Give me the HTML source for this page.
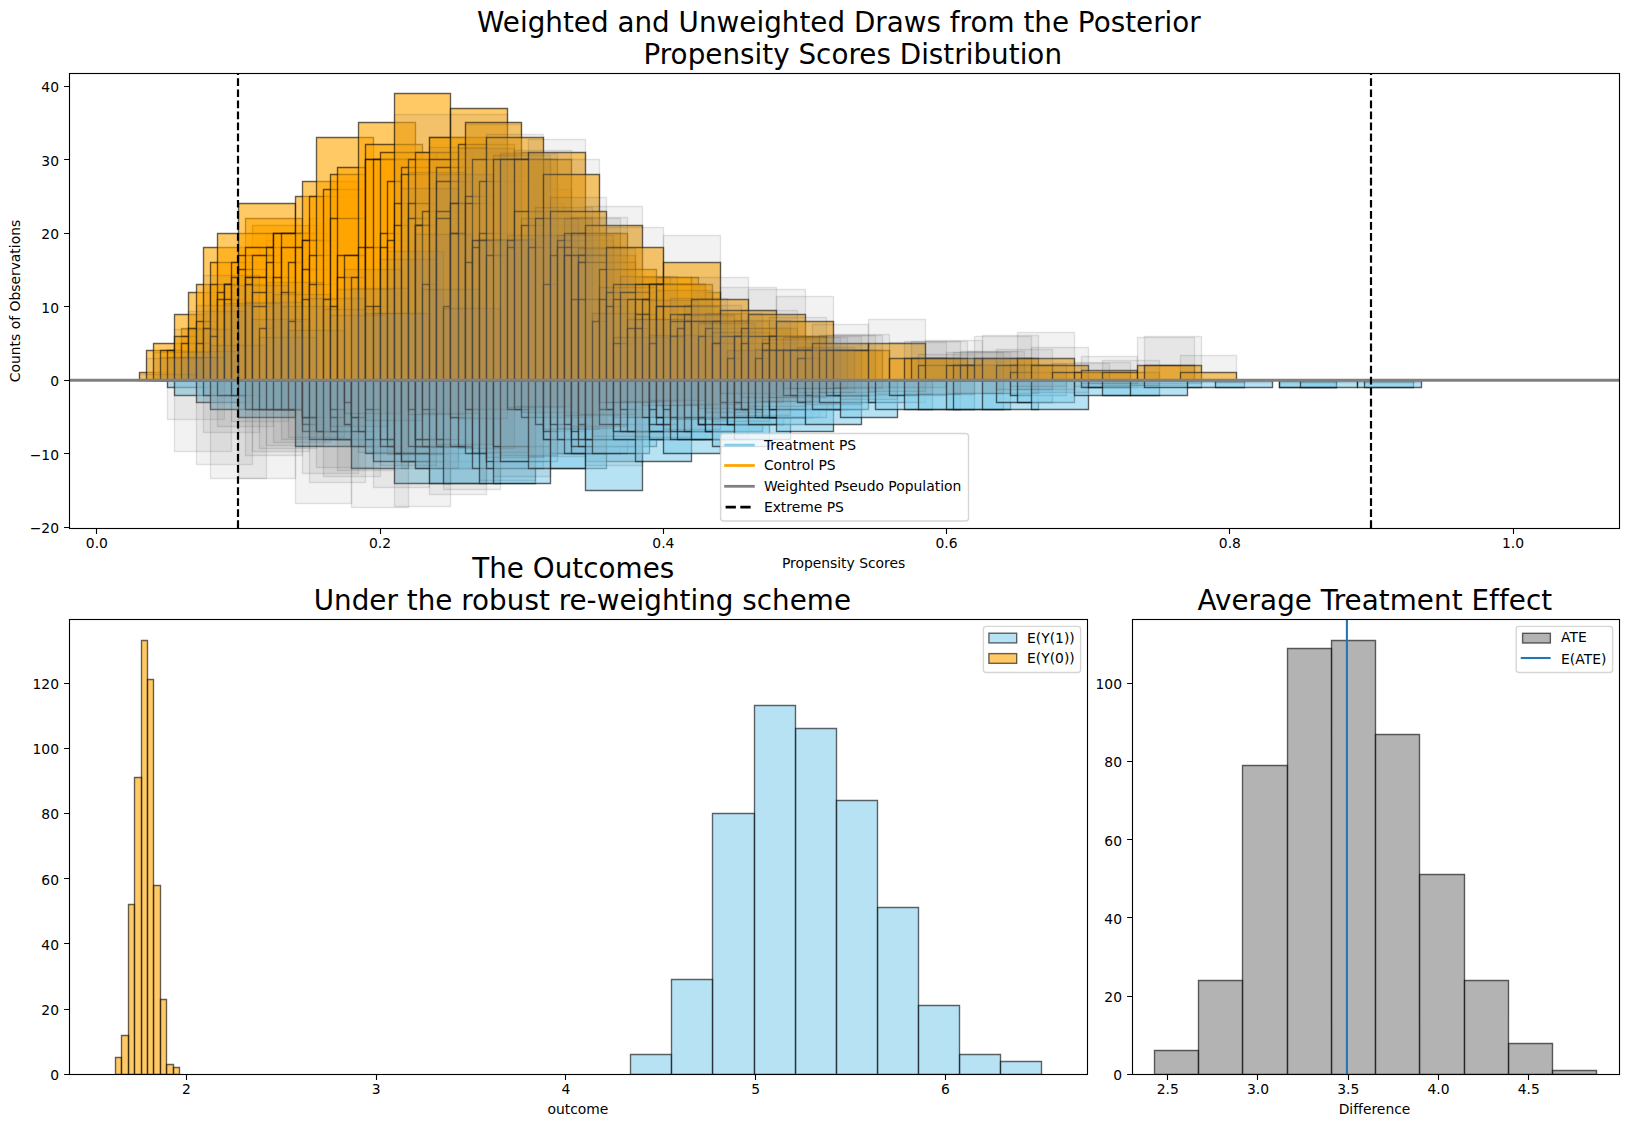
<!DOCTYPE html><html><head><meta charset="utf-8"><title>Propensity Scores</title><style>html,body{margin:0;padding:0;background:#fff}svg{display:block}</style></head><body><svg width="1628" height="1127" viewBox="0 0 1628 1127" font-family="'DejaVu Sans','Liberation Sans',sans-serif" font-size="13.89px" fill="#000" style="font-variant-ligatures:none;font-feature-settings:'liga' 0,'clig' 0">
<rect width="1628" height="1127" fill="#fff"/>
<clipPath id="ca"><rect x="69.5" y="73.5" width="1550.0" height="455.0"/></clipPath>
<g clip-path="url(#ca)">
<g fill="#ffa500" stroke="#000" stroke-width="1.39" opacity="1" fill-opacity="0.6" stroke-opacity="0.6" stroke-linejoin="miter"><path d="M266.5 380.5V233.5H323.5V380.5z"/><path d="M663.5 380.5V292.5H720.5V380.5z"/><path d="M592.5 380.5V277.5H649.5V380.5z"/><path d="M734.5 380.5V336.5H790.5V380.5z"/><path d="M174.5 380.5V350.5H231.5V380.5z"/><path d="M401.5 380.5V196.5H458.5V380.5z"/><path d="M493.5 380.5V181.5H550.5V380.5z"/><path d="M493.5 380.5V174.5H550.5V380.5z"/><path d="M330.5 380.5V255.5H387.5V380.5z"/><path d="M181.5 380.5V343.5H238.5V380.5z"/><path d="M302.5 380.5V269.5H358.5V380.5z"/><path d="M528.5 380.5V218.5H585.5V380.5z"/><path d="M606.5 380.5V306.5H663.5V380.5z"/><path d="M606.5 380.5V306.5H663.5V380.5z"/><path d="M401.5 380.5V225.5H458.5V380.5z"/><path d="M465.5 380.5V240.5H521.5V380.5z"/><path d="M259.5 380.5V262.5H316.5V380.5z"/><path d="M450.5 380.5V203.5H507.5V380.5z"/><path d="M295.5 380.5V247.5H351.5V380.5z"/><path d="M627.5 380.5V306.5H684.5V380.5z"/><path d="M500.5 380.5V262.5H557.5V380.5z"/><path d="M528.5 380.5V247.5H585.5V380.5z"/><path d="M323.5 380.5V196.5H380.5V380.5z"/><path d="M649.5 380.5V306.5H705.5V380.5z"/><path d="M450.5 380.5V233.5H507.5V380.5z"/><path d="M188.5 380.5V328.5H245.5V380.5z"/><path d="M394.5 380.5V211.5H450.5V380.5z"/><path d="M635.5 380.5V277.5H691.5V380.5z"/><path d="M252.5 380.5V225.5H309.5V380.5z"/><path d="M663.5 380.5V321.5H720.5V380.5z"/><path d="M564.5 380.5V277.5H620.5V380.5z"/><path d="M627.5 380.5V306.5H684.5V380.5z"/><path d="M734.5 380.5V328.5H790.5V380.5z"/><path d="M408.5 380.5V189.5H465.5V380.5z"/><path d="M479.5 380.5V167.5H535.5V380.5z"/><path d="M514.5 380.5V189.5H571.5V380.5z"/><path d="M550.5 380.5V262.5H606.5V380.5z"/><path d="M550.5 380.5V299.5H606.5V380.5z"/><path d="M436.5 380.5V152.5H493.5V380.5z"/><path d="M429.5 380.5V203.5H486.5V380.5z"/><path d="M493.5 380.5V167.5H550.5V380.5z"/><path d="M316.5 380.5V262.5H373.5V380.5z"/><path d="M550.5 380.5V269.5H606.5V380.5z"/><path d="M613.5 380.5V277.5H670.5V380.5z"/><path d="M443.5 380.5V152.5H500.5V380.5z"/><path d="M295.5 380.5V277.5H351.5V380.5z"/><path d="M727.5 380.5V336.5H783.5V380.5z"/><path d="M266.5 380.5V262.5H323.5V380.5z"/><path d="M712.5 380.5V336.5H769.5V380.5z"/><path d="M196.5 380.5V336.5H252.5V380.5z"/><path d="M188.5 380.5V343.5H245.5V380.5z"/><path d="M550.5 380.5V299.5H606.5V380.5z"/><path d="M373.5 380.5V181.5H429.5V380.5z"/><path d="M188.5 380.5V343.5H245.5V380.5z"/><path d="M181.5 380.5V328.5H238.5V380.5z"/><path d="M330.5 380.5V181.5H387.5V380.5z"/><path d="M472.5 380.5V247.5H528.5V380.5z"/><path d="M231.5 380.5V284.5H288.5V380.5z"/><path d="M323.5 380.5V211.5H380.5V380.5z"/><path d="M266.5 380.5V240.5H323.5V380.5z"/><path d="M550.5 380.5V292.5H606.5V380.5z"/><path d="M337.5 380.5V203.5H394.5V380.5z"/><path d="M684.5 380.5V321.5H741.5V380.5z"/><path d="M443.5 380.5V167.5H500.5V380.5z"/><path d="M705.5 380.5V343.5H762.5V380.5z"/><path d="M429.5 380.5V137.5H486.5V380.5z"/><path d="M627.5 380.5V314.5H684.5V380.5z"/><path d="M521.5 380.5V255.5H578.5V380.5z"/><path d="M231.5 380.5V299.5H288.5V380.5z"/><path d="M734.5 380.5V343.5H790.5V380.5z"/><path d="M231.5 380.5V299.5H288.5V380.5z"/><path d="M627.5 380.5V299.5H684.5V380.5z"/><path d="M557.5 380.5V262.5H613.5V380.5z"/><path d="M606.5 380.5V292.5H663.5V380.5z"/><path d="M564.5 380.5V277.5H620.5V380.5z"/><path d="M720.5 380.5V336.5H776.5V380.5z"/><path d="M550.5 380.5V292.5H606.5V380.5z"/><path d="M734.5 380.5V328.5H790.5V380.5z"/><path d="M507.5 380.5V203.5H564.5V380.5z"/><path d="M599.5 380.5V284.5H656.5V380.5z"/><path d="M358.5 380.5V277.5H415.5V380.5z"/><path d="M748.5 380.5V336.5H805.5V380.5z"/><path d="M436.5 380.5V181.5H493.5V380.5z"/><path d="M684.5 380.5V336.5H741.5V380.5z"/><path d="M635.5 380.5V306.5H691.5V380.5z"/><path d="M231.5 380.5V292.5H288.5V380.5z"/><path d="M196.5 380.5V336.5H252.5V380.5z"/><path d="M727.5 380.5V343.5H783.5V380.5z"/><path d="M288.5 380.5V277.5H344.5V380.5z"/><path d="M472.5 380.5V152.5H528.5V380.5z"/><path d="M592.5 380.5V299.5H649.5V380.5z"/><path d="M181.5 380.5V336.5H238.5V380.5z"/><path d="M500.5 380.5V218.5H557.5V380.5z"/><path d="M245.5 380.5V218.5H302.5V380.5z"/><path d="M394.5 380.5V174.5H450.5V380.5z"/><path d="M309.5 380.5V218.5H365.5V380.5z"/><path d="M266.5 380.5V255.5H323.5V380.5z"/><path d="M762.5 380.5V343.5H819.5V380.5z"/><path d="M259.5 380.5V292.5H316.5V380.5z"/><path d="M684.5 380.5V336.5H741.5V380.5z"/><path d="M351.5 380.5V196.5H408.5V380.5z"/><path d="M705.5 380.5V328.5H762.5V380.5z"/><path d="M684.5 380.5V321.5H741.5V380.5z"/><path d="M656.5 380.5V292.5H712.5V380.5z"/><path d="M677.5 380.5V328.5H734.5V380.5z"/><path d="M380.5 380.5V189.5H436.5V380.5z"/><path d="M394.5 380.5V262.5H450.5V380.5z"/><path d="M585.5 380.5V292.5H642.5V380.5z"/><path d="M181.5 380.5V336.5H238.5V380.5z"/><path d="M748.5 380.5V336.5H805.5V380.5z"/><path d="M365.5 380.5V189.5H422.5V380.5z"/><path d="M514.5 380.5V225.5H571.5V380.5z"/><path d="M394.5 380.5V247.5H450.5V380.5z"/><path d="M677.5 380.5V314.5H734.5V380.5z"/><path d="M550.5 380.5V277.5H606.5V380.5z"/><path d="M599.5 380.5V277.5H656.5V380.5z"/><path d="M309.5 380.5V225.5H365.5V380.5z"/><path d="M642.5 380.5V277.5H698.5V380.5z"/><path d="M139.5 380.5V372.5H196.5V380.5z"/><path d="M146.5 380.5V350.5H203.5V380.5z"/><path d="M153.5 380.5V343.5H210.5V380.5z"/><path d="M160.5 380.5V350.5H217.5V380.5z"/><path d="M167.5 380.5V350.5H224.5V380.5z"/><path d="M174.5 380.5V314.5H231.5V380.5z"/><path d="M174.5 380.5V336.5H231.5V380.5z"/><path d="M181.5 380.5V343.5H238.5V380.5z"/><path d="M188.5 380.5V292.5H245.5V380.5z"/><path d="M188.5 380.5V328.5H245.5V380.5z"/><path d="M196.5 380.5V284.5H252.5V380.5z"/><path d="M196.5 380.5V321.5H252.5V380.5z"/><path d="M196.5 380.5V343.5H252.5V380.5z"/><path d="M203.5 380.5V247.5H259.5V380.5z"/><path d="M203.5 380.5V328.5H259.5V380.5z"/><path d="M210.5 380.5V262.5H266.5V380.5z"/><path d="M210.5 380.5V284.5H266.5V380.5z"/><path d="M210.5 380.5V336.5H266.5V380.5z"/><path d="M217.5 380.5V233.5H273.5V380.5z"/><path d="M217.5 380.5V292.5H273.5V380.5z"/><path d="M217.5 380.5V299.5H273.5V380.5z"/><path d="M224.5 380.5V284.5H281.5V380.5z"/><path d="M224.5 380.5V284.5H281.5V380.5z"/><path d="M224.5 380.5V284.5H281.5V380.5z"/><path d="M224.5 380.5V299.5H281.5V380.5z"/><path d="M231.5 380.5V262.5H288.5V380.5z"/><path d="M231.5 380.5V277.5H288.5V380.5z"/><path d="M238.5 380.5V203.5H295.5V380.5z"/><path d="M238.5 380.5V255.5H295.5V380.5z"/><path d="M238.5 380.5V269.5H295.5V380.5z"/><path d="M245.5 380.5V247.5H302.5V380.5z"/><path d="M245.5 380.5V277.5H302.5V380.5z"/><path d="M245.5 380.5V277.5H302.5V380.5z"/><path d="M245.5 380.5V284.5H302.5V380.5z"/><path d="M252.5 380.5V255.5H309.5V380.5z"/><path d="M252.5 380.5V277.5H309.5V380.5z"/><path d="M252.5 380.5V292.5H309.5V380.5z"/><path d="M252.5 380.5V306.5H309.5V380.5z"/><path d="M259.5 380.5V328.5H316.5V380.5z"/><path d="M266.5 380.5V247.5H323.5V380.5z"/><path d="M266.5 380.5V262.5H323.5V380.5z"/><path d="M273.5 380.5V233.5H330.5V380.5z"/><path d="M273.5 380.5V233.5H330.5V380.5z"/><path d="M273.5 380.5V277.5H330.5V380.5z"/><path d="M281.5 380.5V233.5H337.5V380.5z"/><path d="M281.5 380.5V247.5H337.5V380.5z"/><path d="M281.5 380.5V292.5H337.5V380.5z"/><path d="M288.5 380.5V262.5H344.5V380.5z"/><path d="M288.5 380.5V321.5H344.5V380.5z"/><path d="M295.5 380.5V196.5H351.5V380.5z"/><path d="M295.5 380.5V247.5H351.5V380.5z"/><path d="M302.5 380.5V181.5H358.5V380.5z"/><path d="M302.5 380.5V240.5H358.5V380.5z"/><path d="M302.5 380.5V240.5H358.5V380.5z"/><path d="M302.5 380.5V269.5H358.5V380.5z"/><path d="M302.5 380.5V299.5H358.5V380.5z"/><path d="M309.5 380.5V196.5H365.5V380.5z"/><path d="M309.5 380.5V255.5H365.5V380.5z"/><path d="M309.5 380.5V284.5H365.5V380.5z"/><path d="M316.5 380.5V137.5H373.5V380.5z"/><path d="M323.5 380.5V189.5H380.5V380.5z"/><path d="M323.5 380.5V299.5H380.5V380.5z"/><path d="M330.5 380.5V174.5H387.5V380.5z"/><path d="M330.5 380.5V218.5H387.5V380.5z"/><path d="M330.5 380.5V306.5H387.5V380.5z"/><path d="M337.5 380.5V167.5H394.5V380.5z"/><path d="M337.5 380.5V255.5H394.5V380.5z"/><path d="M337.5 380.5V277.5H394.5V380.5z"/><path d="M344.5 380.5V255.5H401.5V380.5z"/><path d="M351.5 380.5V277.5H408.5V380.5z"/><path d="M358.5 380.5V122.5H415.5V380.5z"/><path d="M358.5 380.5V247.5H415.5V380.5z"/><path d="M365.5 380.5V144.5H422.5V380.5z"/><path d="M365.5 380.5V159.5H422.5V380.5z"/><path d="M365.5 380.5V159.5H422.5V380.5z"/><path d="M365.5 380.5V247.5H422.5V380.5z"/><path d="M365.5 380.5V306.5H422.5V380.5z"/><path d="M373.5 380.5V159.5H429.5V380.5z"/><path d="M373.5 380.5V306.5H429.5V380.5z"/><path d="M380.5 380.5V152.5H436.5V380.5z"/><path d="M380.5 380.5V233.5H436.5V380.5z"/><path d="M380.5 380.5V247.5H436.5V380.5z"/><path d="M387.5 380.5V181.5H443.5V380.5z"/><path d="M387.5 380.5V240.5H443.5V380.5z"/><path d="M394.5 380.5V93.5H450.5V380.5z"/><path d="M394.5 380.5V203.5H450.5V380.5z"/><path d="M394.5 380.5V225.5H450.5V380.5z"/><path d="M401.5 380.5V167.5H458.5V380.5z"/><path d="M401.5 380.5V174.5H458.5V380.5z"/><path d="M408.5 380.5V159.5H465.5V380.5z"/><path d="M408.5 380.5V203.5H465.5V380.5z"/><path d="M408.5 380.5V218.5H465.5V380.5z"/><path d="M415.5 380.5V152.5H472.5V380.5z"/><path d="M415.5 380.5V225.5H472.5V380.5z"/><path d="M415.5 380.5V225.5H472.5V380.5z"/><path d="M415.5 380.5V225.5H472.5V380.5z"/><path d="M422.5 380.5V211.5H479.5V380.5z"/><path d="M422.5 380.5V284.5H479.5V380.5z"/><path d="M429.5 380.5V137.5H486.5V380.5z"/><path d="M429.5 380.5V159.5H486.5V380.5z"/><path d="M436.5 380.5V167.5H493.5V380.5z"/><path d="M436.5 380.5V181.5H493.5V380.5z"/><path d="M436.5 380.5V211.5H493.5V380.5z"/><path d="M436.5 380.5V218.5H493.5V380.5z"/><path d="M443.5 380.5V306.5H500.5V380.5z"/><path d="M450.5 380.5V108.5H507.5V380.5z"/><path d="M450.5 380.5V203.5H507.5V380.5z"/><path d="M450.5 380.5V203.5H507.5V380.5z"/><path d="M450.5 380.5V233.5H507.5V380.5z"/><path d="M450.5 380.5V233.5H507.5V380.5z"/><path d="M458.5 380.5V144.5H514.5V380.5z"/><path d="M465.5 380.5V122.5H521.5V380.5z"/><path d="M465.5 380.5V196.5H521.5V380.5z"/><path d="M465.5 380.5V203.5H521.5V380.5z"/><path d="M465.5 380.5V262.5H521.5V380.5z"/><path d="M472.5 380.5V159.5H528.5V380.5z"/><path d="M472.5 380.5V240.5H528.5V380.5z"/><path d="M472.5 380.5V247.5H528.5V380.5z"/><path d="M479.5 380.5V181.5H535.5V380.5z"/><path d="M479.5 380.5V233.5H535.5V380.5z"/><path d="M479.5 380.5V240.5H535.5V380.5z"/><path d="M486.5 380.5V137.5H543.5V380.5z"/><path d="M486.5 380.5V255.5H543.5V380.5z"/><path d="M493.5 380.5V159.5H550.5V380.5z"/><path d="M500.5 380.5V159.5H557.5V380.5z"/><path d="M507.5 380.5V240.5H564.5V380.5z"/><path d="M507.5 380.5V247.5H564.5V380.5z"/><path d="M514.5 380.5V159.5H571.5V380.5z"/><path d="M514.5 380.5V211.5H571.5V380.5z"/><path d="M521.5 380.5V225.5H578.5V380.5z"/><path d="M528.5 380.5V152.5H585.5V380.5z"/><path d="M528.5 380.5V247.5H585.5V380.5z"/><path d="M535.5 380.5V218.5H592.5V380.5z"/><path d="M543.5 380.5V174.5H599.5V380.5z"/><path d="M543.5 380.5V284.5H599.5V380.5z"/><path d="M550.5 380.5V211.5H606.5V380.5z"/><path d="M550.5 380.5V255.5H606.5V380.5z"/><path d="M557.5 380.5V240.5H613.5V380.5z"/><path d="M557.5 380.5V247.5H613.5V380.5z"/><path d="M564.5 380.5V233.5H620.5V380.5z"/><path d="M564.5 380.5V247.5H620.5V380.5z"/><path d="M564.5 380.5V255.5H620.5V380.5z"/><path d="M564.5 380.5V255.5H620.5V380.5z"/><path d="M571.5 380.5V233.5H627.5V380.5z"/><path d="M571.5 380.5V255.5H627.5V380.5z"/><path d="M571.5 380.5V299.5H627.5V380.5z"/><path d="M578.5 380.5V255.5H635.5V380.5z"/><path d="M578.5 380.5V262.5H635.5V380.5z"/><path d="M578.5 380.5V262.5H635.5V380.5z"/><path d="M578.5 380.5V299.5H635.5V380.5z"/><path d="M585.5 380.5V225.5H642.5V380.5z"/><path d="M592.5 380.5V321.5H649.5V380.5z"/><path d="M599.5 380.5V269.5H656.5V380.5z"/><path d="M599.5 380.5V299.5H656.5V380.5z"/><path d="M606.5 380.5V247.5H663.5V380.5z"/><path d="M606.5 380.5V292.5H663.5V380.5z"/><path d="M606.5 380.5V306.5H663.5V380.5z"/><path d="M613.5 380.5V284.5H670.5V380.5z"/><path d="M613.5 380.5V299.5H670.5V380.5z"/><path d="M613.5 380.5V343.5H670.5V380.5z"/><path d="M620.5 380.5V292.5H677.5V380.5z"/><path d="M627.5 380.5V299.5H684.5V380.5z"/><path d="M627.5 380.5V328.5H684.5V380.5z"/><path d="M635.5 380.5V284.5H691.5V380.5z"/><path d="M635.5 380.5V299.5H691.5V380.5z"/><path d="M635.5 380.5V314.5H691.5V380.5z"/><path d="M635.5 380.5V328.5H691.5V380.5z"/><path d="M642.5 380.5V299.5H698.5V380.5z"/><path d="M642.5 380.5V314.5H698.5V380.5z"/><path d="M649.5 380.5V284.5H705.5V380.5z"/><path d="M649.5 380.5V284.5H705.5V380.5z"/><path d="M649.5 380.5V343.5H705.5V380.5z"/><path d="M656.5 380.5V284.5H712.5V380.5z"/><path d="M656.5 380.5V306.5H712.5V380.5z"/><path d="M656.5 380.5V306.5H712.5V380.5z"/><path d="M663.5 380.5V262.5H720.5V380.5z"/><path d="M663.5 380.5V306.5H720.5V380.5z"/><path d="M670.5 380.5V314.5H727.5V380.5z"/><path d="M670.5 380.5V321.5H727.5V380.5z"/><path d="M670.5 380.5V336.5H727.5V380.5z"/><path d="M677.5 380.5V328.5H734.5V380.5z"/><path d="M684.5 380.5V314.5H741.5V380.5z"/><path d="M684.5 380.5V321.5H741.5V380.5z"/><path d="M684.5 380.5V321.5H741.5V380.5z"/><path d="M691.5 380.5V299.5H748.5V380.5z"/><path d="M691.5 380.5V321.5H748.5V380.5z"/><path d="M698.5 380.5V336.5H755.5V380.5z"/><path d="M705.5 380.5V328.5H762.5V380.5z"/><path d="M712.5 380.5V321.5H769.5V380.5z"/><path d="M712.5 380.5V343.5H769.5V380.5z"/><path d="M712.5 380.5V343.5H769.5V380.5z"/><path d="M720.5 380.5V310.5H776.5V380.5z"/><path d="M720.5 380.5V336.5H776.5V380.5z"/><path d="M727.5 380.5V358.5H783.5V380.5z"/><path d="M734.5 380.5V336.5H790.5V380.5z"/><path d="M734.5 380.5V336.5H790.5V380.5z"/><path d="M741.5 380.5V328.5H797.5V380.5z"/><path d="M741.5 380.5V343.5H797.5V380.5z"/><path d="M748.5 380.5V314.5H805.5V380.5z"/><path d="M748.5 380.5V336.5H805.5V380.5z"/><path d="M755.5 380.5V358.5H812.5V380.5z"/><path d="M762.5 380.5V343.5H819.5V380.5z"/><path d="M762.5 380.5V350.5H819.5V380.5z"/><path d="M769.5 380.5V336.5H826.5V380.5z"/><path d="M769.5 380.5V336.5H826.5V380.5z"/><path d="M769.5 380.5V350.5H826.5V380.5z"/><path d="M776.5 380.5V321.5H833.5V380.5z"/><path d="M776.5 380.5V350.5H833.5V380.5z"/><path d="M783.5 380.5V350.5H840.5V380.5z"/><path d="M790.5 380.5V350.5H847.5V380.5z"/><path d="M797.5 380.5V358.5H854.5V380.5z"/><path d="M805.5 380.5V350.5H861.5V380.5z"/><path d="M812.5 380.5V343.5H868.5V380.5z"/><path d="M819.5 380.5V350.5H875.5V380.5z"/><path d="M826.5 380.5V350.5H882.5V380.5z"/><path d="M833.5 380.5V350.5H889.5V380.5z"/><path d="M868.5 380.5V343.5H925.5V380.5z"/><path d="M889.5 380.5V358.5H946.5V380.5z"/><path d="M904.5 380.5V358.5H960.5V380.5z"/><path d="M911.5 380.5V358.5H967.5V380.5z"/><path d="M918.5 380.5V365.5H974.5V380.5z"/><path d="M925.5 380.5V358.5H982.5V380.5z"/><path d="M946.5 380.5V365.5H1003.5V380.5z"/><path d="M953.5 380.5V365.5H1010.5V380.5z"/><path d="M960.5 380.5V365.5H1017.5V380.5z"/><path d="M967.5 380.5V365.5H1024.5V380.5z"/><path d="M974.5 380.5V358.5H1031.5V380.5z"/><path d="M982.5 380.5V358.5H1038.5V380.5z"/><path d="M996.5 380.5V365.5H1052.5V380.5z"/><path d="M1010.5 380.5V372.5H1066.5V380.5z"/><path d="M1017.5 380.5V358.5H1074.5V380.5z"/><path d="M1031.5 380.5V365.5H1088.5V380.5z"/><path d="M1052.5 380.5V372.5H1109.5V380.5z"/><path d="M1074.5 380.5V372.5H1130.5V380.5z"/><path d="M1081.5 380.5V370.5H1137.5V380.5z"/><path d="M1102.5 380.5V372.5H1159.5V380.5z"/><path d="M1137.5 380.5V365.5H1194.5V380.5z"/><path d="M1144.5 380.5V365.5H1201.5V380.5z"/><path d="M1180.5 380.5V372.5H1236.5V380.5z"/></g>
<g fill="#87ceeb" stroke="#000" stroke-width="1.39" opacity="1" fill-opacity="0.6" stroke-opacity="0.6" stroke-linejoin="miter"><path d="M1279.5 380.5V387.5H1336.5V380.5z"/><path d="M408.5 380.5V461.5H465.5V380.5z"/><path d="M805.5 380.5V402.5H861.5V380.5z"/><path d="M627.5 380.5V431.5H684.5V380.5z"/><path d="M585.5 380.5V461.5H642.5V380.5z"/><path d="M606.5 380.5V439.5H663.5V380.5z"/><path d="M790.5 380.5V409.5H847.5V380.5z"/><path d="M727.5 380.5V424.5H783.5V380.5z"/><path d="M557.5 380.5V446.5H613.5V380.5z"/><path d="M613.5 380.5V439.5H670.5V380.5z"/><path d="M344.5 380.5V417.5H401.5V380.5z"/><path d="M698.5 380.5V424.5H755.5V380.5z"/><path d="M656.5 380.5V424.5H712.5V380.5z"/><path d="M373.5 380.5V424.5H429.5V380.5z"/><path d="M670.5 380.5V417.5H727.5V380.5z"/><path d="M373.5 380.5V453.5H429.5V380.5z"/><path d="M486.5 380.5V453.5H543.5V380.5z"/><path d="M429.5 380.5V446.5H486.5V380.5z"/><path d="M550.5 380.5V446.5H606.5V380.5z"/><path d="M599.5 380.5V446.5H656.5V380.5z"/><path d="M415.5 380.5V468.5H472.5V380.5z"/><path d="M493.5 380.5V424.5H550.5V380.5z"/><path d="M401.5 380.5V446.5H458.5V380.5z"/><path d="M493.5 380.5V446.5H550.5V380.5z"/><path d="M620.5 380.5V424.5H677.5V380.5z"/><path d="M358.5 380.5V446.5H415.5V380.5z"/><path d="M776.5 380.5V409.5H833.5V380.5z"/><path d="M705.5 380.5V431.5H762.5V380.5z"/><path d="M691.5 380.5V431.5H748.5V380.5z"/><path d="M691.5 380.5V431.5H748.5V380.5z"/><path d="M543.5 380.5V453.5H599.5V380.5z"/><path d="M635.5 380.5V439.5H691.5V380.5z"/><path d="M330.5 380.5V417.5H387.5V380.5z"/><path d="M528.5 380.5V424.5H585.5V380.5z"/><path d="M323.5 380.5V424.5H380.5V380.5z"/><path d="M429.5 380.5V446.5H486.5V380.5z"/><path d="M564.5 380.5V431.5H620.5V380.5z"/><path d="M635.5 380.5V431.5H691.5V380.5z"/><path d="M408.5 380.5V431.5H465.5V380.5z"/><path d="M535.5 380.5V439.5H592.5V380.5z"/><path d="M535.5 380.5V446.5H592.5V380.5z"/><path d="M649.5 380.5V431.5H705.5V380.5z"/><path d="M712.5 380.5V417.5H769.5V380.5z"/><path d="M436.5 380.5V468.5H493.5V380.5z"/><path d="M592.5 380.5V431.5H649.5V380.5z"/><path d="M571.5 380.5V439.5H627.5V380.5z"/><path d="M422.5 380.5V431.5H479.5V380.5z"/><path d="M443.5 380.5V424.5H500.5V380.5z"/><path d="M436.5 380.5V453.5H493.5V380.5z"/><path d="M365.5 380.5V431.5H422.5V380.5z"/><path d="M429.5 380.5V461.5H486.5V380.5z"/><path d="M783.5 380.5V409.5H840.5V380.5z"/><path d="M415.5 380.5V453.5H472.5V380.5z"/><path d="M635.5 380.5V424.5H691.5V380.5z"/><path d="M755.5 380.5V409.5H812.5V380.5z"/><path d="M790.5 380.5V409.5H847.5V380.5z"/><path d="M351.5 380.5V446.5H408.5V380.5z"/><path d="M805.5 380.5V402.5H861.5V380.5z"/><path d="M592.5 380.5V446.5H649.5V380.5z"/><path d="M663.5 380.5V409.5H720.5V380.5z"/><path d="M500.5 380.5V439.5H557.5V380.5z"/><path d="M380.5 380.5V446.5H436.5V380.5z"/><path d="M500.5 380.5V439.5H557.5V380.5z"/><path d="M720.5 380.5V409.5H776.5V380.5z"/><path d="M677.5 380.5V431.5H734.5V380.5z"/><path d="M337.5 380.5V417.5H394.5V380.5z"/><path d="M790.5 380.5V409.5H847.5V380.5z"/><path d="M500.5 380.5V453.5H557.5V380.5z"/><path d="M415.5 380.5V461.5H472.5V380.5z"/><path d="M805.5 380.5V409.5H861.5V380.5z"/><path d="M805.5 380.5V409.5H861.5V380.5z"/><path d="M592.5 380.5V424.5H649.5V380.5z"/><path d="M394.5 380.5V439.5H450.5V380.5z"/><path d="M712.5 380.5V424.5H769.5V380.5z"/><path d="M479.5 380.5V461.5H535.5V380.5z"/><path d="M748.5 380.5V417.5H805.5V380.5z"/><path d="M373.5 380.5V431.5H429.5V380.5z"/><path d="M592.5 380.5V431.5H649.5V380.5z"/><path d="M712.5 380.5V424.5H769.5V380.5z"/><path d="M535.5 380.5V453.5H592.5V380.5z"/><path d="M535.5 380.5V431.5H592.5V380.5z"/><path d="M755.5 380.5V417.5H812.5V380.5z"/><path d="M550.5 380.5V453.5H606.5V380.5z"/><path d="M167.5 380.5V387.5H224.5V380.5z"/><path d="M174.5 380.5V395.5H231.5V380.5z"/><path d="M196.5 380.5V402.5H252.5V380.5z"/><path d="M203.5 380.5V395.5H259.5V380.5z"/><path d="M210.5 380.5V409.5H266.5V380.5z"/><path d="M217.5 380.5V395.5H273.5V380.5z"/><path d="M231.5 380.5V395.5H288.5V380.5z"/><path d="M238.5 380.5V417.5H295.5V380.5z"/><path d="M245.5 380.5V409.5H302.5V380.5z"/><path d="M252.5 380.5V409.5H309.5V380.5z"/><path d="M259.5 380.5V409.5H316.5V380.5z"/><path d="M266.5 380.5V409.5H323.5V380.5z"/><path d="M273.5 380.5V409.5H330.5V380.5z"/><path d="M281.5 380.5V409.5H337.5V380.5z"/><path d="M288.5 380.5V409.5H344.5V380.5z"/><path d="M295.5 380.5V446.5H351.5V380.5z"/><path d="M302.5 380.5V431.5H358.5V380.5z"/><path d="M302.5 380.5V424.5H358.5V380.5z"/><path d="M302.5 380.5V417.5H358.5V380.5z"/><path d="M302.5 380.5V417.5H358.5V380.5z"/><path d="M302.5 380.5V417.5H358.5V380.5z"/><path d="M309.5 380.5V439.5H365.5V380.5z"/><path d="M309.5 380.5V417.5H365.5V380.5z"/><path d="M316.5 380.5V431.5H373.5V380.5z"/><path d="M316.5 380.5V431.5H373.5V380.5z"/><path d="M323.5 380.5V439.5H380.5V380.5z"/><path d="M330.5 380.5V431.5H387.5V380.5z"/><path d="M330.5 380.5V417.5H387.5V380.5z"/><path d="M330.5 380.5V409.5H387.5V380.5z"/><path d="M337.5 380.5V439.5H394.5V380.5z"/><path d="M344.5 380.5V424.5H401.5V380.5z"/><path d="M344.5 380.5V424.5H401.5V380.5z"/><path d="M344.5 380.5V402.5H401.5V380.5z"/><path d="M351.5 380.5V468.5H408.5V380.5z"/><path d="M351.5 380.5V446.5H408.5V380.5z"/><path d="M351.5 380.5V431.5H408.5V380.5z"/><path d="M351.5 380.5V417.5H408.5V380.5z"/><path d="M351.5 380.5V417.5H408.5V380.5z"/><path d="M358.5 380.5V431.5H415.5V380.5z"/><path d="M365.5 380.5V453.5H422.5V380.5z"/><path d="M365.5 380.5V439.5H422.5V380.5z"/><path d="M365.5 380.5V409.5H422.5V380.5z"/><path d="M373.5 380.5V461.5H429.5V380.5z"/><path d="M380.5 380.5V446.5H436.5V380.5z"/><path d="M380.5 380.5V439.5H436.5V380.5z"/><path d="M387.5 380.5V446.5H443.5V380.5z"/><path d="M387.5 380.5V439.5H443.5V380.5z"/><path d="M394.5 380.5V483.5H450.5V380.5z"/><path d="M394.5 380.5V453.5H450.5V380.5z"/><path d="M394.5 380.5V453.5H450.5V380.5z"/><path d="M401.5 380.5V461.5H458.5V380.5z"/><path d="M401.5 380.5V461.5H458.5V380.5z"/><path d="M401.5 380.5V453.5H458.5V380.5z"/><path d="M408.5 380.5V446.5H465.5V380.5z"/><path d="M408.5 380.5V409.5H465.5V380.5z"/><path d="M415.5 380.5V468.5H472.5V380.5z"/><path d="M415.5 380.5V453.5H472.5V380.5z"/><path d="M415.5 380.5V446.5H472.5V380.5z"/><path d="M415.5 380.5V439.5H472.5V380.5z"/><path d="M415.5 380.5V439.5H472.5V380.5z"/><path d="M422.5 380.5V446.5H479.5V380.5z"/><path d="M422.5 380.5V439.5H479.5V380.5z"/><path d="M422.5 380.5V409.5H479.5V380.5z"/><path d="M429.5 380.5V483.5H486.5V380.5z"/><path d="M436.5 380.5V446.5H493.5V380.5z"/><path d="M436.5 380.5V439.5H493.5V380.5z"/><path d="M443.5 380.5V483.5H500.5V380.5z"/><path d="M450.5 380.5V446.5H507.5V380.5z"/><path d="M450.5 380.5V417.5H507.5V380.5z"/><path d="M458.5 380.5V446.5H514.5V380.5z"/><path d="M465.5 380.5V453.5H521.5V380.5z"/><path d="M465.5 380.5V409.5H521.5V380.5z"/><path d="M472.5 380.5V468.5H528.5V380.5z"/><path d="M472.5 380.5V453.5H528.5V380.5z"/><path d="M479.5 380.5V483.5H535.5V380.5z"/><path d="M479.5 380.5V453.5H535.5V380.5z"/><path d="M486.5 380.5V468.5H543.5V380.5z"/><path d="M486.5 380.5V461.5H543.5V380.5z"/><path d="M493.5 380.5V483.5H550.5V380.5z"/><path d="M493.5 380.5V446.5H550.5V380.5z"/><path d="M493.5 380.5V446.5H550.5V380.5z"/><path d="M500.5 380.5V461.5H557.5V380.5z"/><path d="M507.5 380.5V409.5H564.5V380.5z"/><path d="M514.5 380.5V409.5H571.5V380.5z"/><path d="M521.5 380.5V417.5H578.5V380.5z"/><path d="M528.5 380.5V468.5H585.5V380.5z"/><path d="M535.5 380.5V424.5H592.5V380.5z"/><path d="M543.5 380.5V439.5H599.5V380.5z"/><path d="M543.5 380.5V439.5H599.5V380.5z"/><path d="M543.5 380.5V431.5H599.5V380.5z"/><path d="M550.5 380.5V468.5H606.5V380.5z"/><path d="M550.5 380.5V424.5H606.5V380.5z"/><path d="M557.5 380.5V439.5H613.5V380.5z"/><path d="M564.5 380.5V453.5H620.5V380.5z"/><path d="M564.5 380.5V424.5H620.5V380.5z"/><path d="M571.5 380.5V453.5H627.5V380.5z"/><path d="M571.5 380.5V446.5H627.5V380.5z"/><path d="M571.5 380.5V439.5H627.5V380.5z"/><path d="M571.5 380.5V431.5H627.5V380.5z"/><path d="M578.5 380.5V446.5H635.5V380.5z"/><path d="M578.5 380.5V439.5H635.5V380.5z"/><path d="M578.5 380.5V424.5H635.5V380.5z"/><path d="M585.5 380.5V490.5H642.5V380.5z"/><path d="M585.5 380.5V439.5H642.5V380.5z"/><path d="M585.5 380.5V439.5H642.5V380.5z"/><path d="M592.5 380.5V453.5H649.5V380.5z"/><path d="M599.5 380.5V424.5H656.5V380.5z"/><path d="M599.5 380.5V409.5H656.5V380.5z"/><path d="M606.5 380.5V409.5H663.5V380.5z"/><path d="M613.5 380.5V439.5H670.5V380.5z"/><path d="M613.5 380.5V431.5H670.5V380.5z"/><path d="M613.5 380.5V424.5H670.5V380.5z"/><path d="M620.5 380.5V431.5H677.5V380.5z"/><path d="M620.5 380.5V409.5H677.5V380.5z"/><path d="M627.5 380.5V431.5H684.5V380.5z"/><path d="M635.5 380.5V461.5H691.5V380.5z"/><path d="M642.5 380.5V417.5H698.5V380.5z"/><path d="M649.5 380.5V439.5H705.5V380.5z"/><path d="M649.5 380.5V431.5H705.5V380.5z"/><path d="M649.5 380.5V431.5H705.5V380.5z"/><path d="M649.5 380.5V424.5H705.5V380.5z"/><path d="M649.5 380.5V409.5H705.5V380.5z"/><path d="M656.5 380.5V424.5H712.5V380.5z"/><path d="M656.5 380.5V417.5H712.5V380.5z"/><path d="M656.5 380.5V417.5H712.5V380.5z"/><path d="M663.5 380.5V453.5H720.5V380.5z"/><path d="M663.5 380.5V424.5H720.5V380.5z"/><path d="M663.5 380.5V409.5H720.5V380.5z"/><path d="M670.5 380.5V439.5H727.5V380.5z"/><path d="M670.5 380.5V431.5H727.5V380.5z"/><path d="M670.5 380.5V417.5H727.5V380.5z"/><path d="M677.5 380.5V439.5H734.5V380.5z"/><path d="M677.5 380.5V431.5H734.5V380.5z"/><path d="M684.5 380.5V431.5H741.5V380.5z"/><path d="M684.5 380.5V417.5H741.5V380.5z"/><path d="M691.5 380.5V439.5H748.5V380.5z"/><path d="M698.5 380.5V424.5H755.5V380.5z"/><path d="M698.5 380.5V424.5H755.5V380.5z"/><path d="M698.5 380.5V424.5H755.5V380.5z"/><path d="M698.5 380.5V417.5H755.5V380.5z"/><path d="M705.5 380.5V431.5H762.5V380.5z"/><path d="M705.5 380.5V431.5H762.5V380.5z"/><path d="M705.5 380.5V424.5H762.5V380.5z"/><path d="M712.5 380.5V446.5H769.5V380.5z"/><path d="M712.5 380.5V424.5H769.5V380.5z"/><path d="M720.5 380.5V417.5H776.5V380.5z"/><path d="M720.5 380.5V402.5H776.5V380.5z"/><path d="M727.5 380.5V424.5H783.5V380.5z"/><path d="M727.5 380.5V424.5H783.5V380.5z"/><path d="M727.5 380.5V417.5H783.5V380.5z"/><path d="M734.5 380.5V439.5H790.5V380.5z"/><path d="M734.5 380.5V417.5H790.5V380.5z"/><path d="M734.5 380.5V409.5H790.5V380.5z"/><path d="M734.5 380.5V402.5H790.5V380.5z"/><path d="M741.5 380.5V409.5H797.5V380.5z"/><path d="M741.5 380.5V409.5H797.5V380.5z"/><path d="M748.5 380.5V424.5H805.5V380.5z"/><path d="M748.5 380.5V417.5H805.5V380.5z"/><path d="M755.5 380.5V417.5H812.5V380.5z"/><path d="M755.5 380.5V409.5H812.5V380.5z"/><path d="M762.5 380.5V417.5H819.5V380.5z"/><path d="M769.5 380.5V417.5H826.5V380.5z"/><path d="M769.5 380.5V409.5H826.5V380.5z"/><path d="M769.5 380.5V409.5H826.5V380.5z"/><path d="M776.5 380.5V431.5H833.5V380.5z"/><path d="M783.5 380.5V395.5H840.5V380.5z"/><path d="M790.5 380.5V395.5H847.5V380.5z"/><path d="M797.5 380.5V402.5H854.5V380.5z"/><path d="M805.5 380.5V424.5H861.5V380.5z"/><path d="M805.5 380.5V395.5H861.5V380.5z"/><path d="M812.5 380.5V409.5H868.5V380.5z"/><path d="M819.5 380.5V402.5H875.5V380.5z"/><path d="M826.5 380.5V395.5H882.5V380.5z"/><path d="M833.5 380.5V395.5H889.5V380.5z"/><path d="M840.5 380.5V417.5H897.5V380.5z"/><path d="M868.5 380.5V402.5H925.5V380.5z"/><path d="M875.5 380.5V409.5H932.5V380.5z"/><path d="M889.5 380.5V395.5H946.5V380.5z"/><path d="M904.5 380.5V409.5H960.5V380.5z"/><path d="M918.5 380.5V409.5H974.5V380.5z"/><path d="M946.5 380.5V409.5H1003.5V380.5z"/><path d="M953.5 380.5V409.5H1010.5V380.5z"/><path d="M982.5 380.5V409.5H1038.5V380.5z"/><path d="M996.5 380.5V402.5H1052.5V380.5z"/><path d="M1010.5 380.5V395.5H1066.5V380.5z"/><path d="M1017.5 380.5V402.5H1074.5V380.5z"/><path d="M1031.5 380.5V409.5H1088.5V380.5z"/><path d="M1074.5 380.5V395.5H1130.5V380.5z"/><path d="M1081.5 380.5V387.5H1137.5V380.5z"/><path d="M1088.5 380.5V387.5H1144.5V380.5z"/><path d="M1102.5 380.5V395.5H1159.5V380.5z"/><path d="M1130.5 380.5V395.5H1187.5V380.5z"/><path d="M1144.5 380.5V387.5H1201.5V380.5z"/><path d="M1187.5 380.5V387.5H1244.5V380.5z"/><path d="M1215.5 380.5V387.5H1272.5V380.5z"/><path d="M1279.5 380.5V387.5H1336.5V380.5z"/><path d="M1300.5 380.5V387.5H1357.5V380.5z"/><path d="M1357.5 380.5V387.5H1413.5V380.5z"/><path d="M1364.5 380.5V387.5H1421.5V380.5z"/></g>
<g fill="#808080" stroke="#000" stroke-width="1.39" opacity="1" fill-opacity="0.1" stroke-opacity="0.1" stroke-linejoin="miter"><path d="M139.5 380.5V374.5H196.5V380.5z"/><path d="M146.5 380.5V358.5H203.5V380.5z"/><path d="M153.5 380.5V352.5H210.5V380.5z"/><path d="M160.5 380.5V357.5H217.5V380.5z"/><path d="M167.5 380.5V357.5H224.5V380.5z"/><path d="M174.5 380.5V329.5H231.5V380.5z"/><path d="M181.5 380.5V351.5H238.5V380.5z"/><path d="M188.5 380.5V311.5H245.5V380.5z"/><path d="M196.5 380.5V305.5H252.5V380.5z"/><path d="M203.5 380.5V275.5H259.5V380.5z"/><path d="M210.5 380.5V345.5H266.5V380.5z"/><path d="M224.5 380.5V303.5H281.5V380.5z"/><path d="M231.5 380.5V285.5H288.5V380.5z"/><path d="M245.5 380.5V302.5H302.5V380.5z"/><path d="M252.5 380.5V319.5H309.5V380.5z"/><path d="M259.5 380.5V337.5H316.5V380.5z"/><path d="M266.5 380.5V282.5H323.5V380.5z"/><path d="M273.5 380.5V294.5H330.5V380.5z"/><path d="M281.5 380.5V306.5H337.5V380.5z"/><path d="M288.5 380.5V330.5H344.5V380.5z"/><path d="M309.5 380.5V298.5H365.5V380.5z"/><path d="M323.5 380.5V309.5H380.5V380.5z"/><path d="M330.5 380.5V315.5H387.5V380.5z"/><path d="M337.5 380.5V289.5H394.5V380.5z"/><path d="M344.5 380.5V269.5H401.5V380.5z"/><path d="M351.5 380.5V288.5H408.5V380.5z"/><path d="M365.5 380.5V313.5H422.5V380.5z"/><path d="M373.5 380.5V313.5H429.5V380.5z"/><path d="M380.5 380.5V259.5H436.5V380.5z"/><path d="M387.5 380.5V251.5H443.5V380.5z"/><path d="M394.5 380.5V114.5H450.5V380.5z"/><path d="M401.5 380.5V188.5H458.5V380.5z"/><path d="M408.5 380.5V172.5H465.5V380.5z"/><path d="M415.5 380.5V234.5H472.5V380.5z"/><path d="M422.5 380.5V289.5H479.5V380.5z"/><path d="M429.5 380.5V147.5H486.5V380.5z"/><path d="M436.5 380.5V174.5H493.5V380.5z"/><path d="M443.5 380.5V308.5H500.5V380.5z"/><path d="M450.5 380.5V114.5H507.5V380.5z"/><path d="M458.5 380.5V148.5H514.5V380.5z"/><path d="M465.5 380.5V124.5H521.5V380.5z"/><path d="M472.5 380.5V240.5H528.5V380.5z"/><path d="M479.5 380.5V239.5H535.5V380.5z"/><path d="M486.5 380.5V134.5H543.5V380.5z"/><path d="M493.5 380.5V155.5H550.5V380.5z"/><path d="M500.5 380.5V153.5H557.5V380.5z"/><path d="M507.5 380.5V235.5H564.5V380.5z"/><path d="M514.5 380.5V150.5H571.5V380.5z"/><path d="M521.5 380.5V218.5H578.5V380.5z"/><path d="M528.5 380.5V139.5H585.5V380.5z"/><path d="M535.5 380.5V207.5H592.5V380.5z"/><path d="M543.5 380.5V159.5H599.5V380.5z"/><path d="M550.5 380.5V197.5H606.5V380.5z"/><path d="M557.5 380.5V235.5H613.5V380.5z"/><path d="M564.5 380.5V218.5H620.5V380.5z"/><path d="M571.5 380.5V217.5H627.5V380.5z"/><path d="M578.5 380.5V248.5H635.5V380.5z"/><path d="M585.5 380.5V206.5H642.5V380.5z"/><path d="M592.5 380.5V313.5H649.5V380.5z"/><path d="M599.5 380.5V287.5H656.5V380.5z"/><path d="M606.5 380.5V227.5H663.5V380.5z"/><path d="M613.5 380.5V337.5H670.5V380.5z"/><path d="M620.5 380.5V276.5H677.5V380.5z"/><path d="M627.5 380.5V319.5H684.5V380.5z"/><path d="M635.5 380.5V319.5H691.5V380.5z"/><path d="M642.5 380.5V300.5H698.5V380.5z"/><path d="M649.5 380.5V335.5H705.5V380.5z"/><path d="M656.5 380.5V290.5H712.5V380.5z"/><path d="M663.5 380.5V235.5H720.5V380.5z"/><path d="M670.5 380.5V298.5H727.5V380.5z"/><path d="M677.5 380.5V315.5H734.5V380.5z"/><path d="M684.5 380.5V305.5H741.5V380.5z"/><path d="M691.5 380.5V277.5H748.5V380.5z"/><path d="M698.5 380.5V323.5H755.5V380.5z"/><path d="M705.5 380.5V313.5H762.5V380.5z"/><path d="M712.5 380.5V332.5H769.5V380.5z"/><path d="M720.5 380.5V287.5H776.5V380.5z"/><path d="M727.5 380.5V350.5H783.5V380.5z"/><path d="M734.5 380.5V320.5H790.5V380.5z"/><path d="M741.5 380.5V310.5H797.5V380.5z"/><path d="M748.5 380.5V289.5H805.5V380.5z"/><path d="M755.5 380.5V349.5H812.5V380.5z"/><path d="M762.5 380.5V339.5H819.5V380.5z"/><path d="M769.5 380.5V317.5H826.5V380.5z"/><path d="M776.5 380.5V296.5H833.5V380.5z"/><path d="M783.5 380.5V337.5H840.5V380.5z"/><path d="M790.5 380.5V337.5H847.5V380.5z"/><path d="M797.5 380.5V347.5H854.5V380.5z"/><path d="M805.5 380.5V336.5H861.5V380.5z"/><path d="M812.5 380.5V324.5H868.5V380.5z"/><path d="M819.5 380.5V335.5H875.5V380.5z"/><path d="M826.5 380.5V335.5H882.5V380.5z"/><path d="M833.5 380.5V334.5H889.5V380.5z"/><path d="M868.5 380.5V319.5H925.5V380.5z"/><path d="M889.5 380.5V342.5H946.5V380.5z"/><path d="M904.5 380.5V341.5H960.5V380.5z"/><path d="M911.5 380.5V341.5H967.5V380.5z"/><path d="M918.5 380.5V354.5H974.5V380.5z"/><path d="M925.5 380.5V340.5H982.5V380.5z"/><path d="M946.5 380.5V352.5H1003.5V380.5z"/><path d="M953.5 380.5V352.5H1010.5V380.5z"/><path d="M960.5 380.5V351.5H1017.5V380.5z"/><path d="M967.5 380.5V351.5H1024.5V380.5z"/><path d="M974.5 380.5V336.5H1031.5V380.5z"/><path d="M982.5 380.5V335.5H1038.5V380.5z"/><path d="M996.5 380.5V349.5H1052.5V380.5z"/><path d="M1010.5 380.5V364.5H1066.5V380.5z"/><path d="M1017.5 380.5V332.5H1074.5V380.5z"/><path d="M1031.5 380.5V347.5H1088.5V380.5z"/><path d="M1052.5 380.5V363.5H1109.5V380.5z"/><path d="M1074.5 380.5V362.5H1130.5V380.5z"/><path d="M1081.5 380.5V356.5H1137.5V380.5z"/><path d="M1102.5 380.5V360.5H1159.5V380.5z"/><path d="M1137.5 380.5V337.5H1194.5V380.5z"/><path d="M1144.5 380.5V336.5H1201.5V380.5z"/><path d="M1180.5 380.5V355.5H1236.5V380.5z"/></g>
<g fill="#808080" stroke="#000" stroke-width="1.39" opacity="1" fill-opacity="0.1" stroke-opacity="0.1" stroke-linejoin="miter"><path d="M167.5 380.5V419.5H224.5V380.5z"/><path d="M174.5 380.5V451.5H231.5V380.5z"/><path d="M196.5 380.5V464.5H252.5V380.5z"/><path d="M203.5 380.5V432.5H259.5V380.5z"/><path d="M210.5 380.5V478.5H266.5V380.5z"/><path d="M217.5 380.5V426.5H273.5V380.5z"/><path d="M231.5 380.5V421.5H288.5V380.5z"/><path d="M238.5 380.5V478.5H295.5V380.5z"/><path d="M245.5 380.5V455.5H302.5V380.5z"/><path d="M252.5 380.5V451.5H309.5V380.5z"/><path d="M259.5 380.5V448.5H316.5V380.5z"/><path d="M266.5 380.5V445.5H323.5V380.5z"/><path d="M273.5 380.5V442.5H330.5V380.5z"/><path d="M281.5 380.5V439.5H337.5V380.5z"/><path d="M288.5 380.5V437.5H344.5V380.5z"/><path d="M295.5 380.5V503.5H351.5V380.5z"/><path d="M302.5 380.5V473.5H358.5V380.5z"/><path d="M309.5 380.5V482.5H365.5V380.5z"/><path d="M316.5 380.5V467.5H373.5V380.5z"/><path d="M323.5 380.5V476.5H380.5V380.5z"/><path d="M330.5 380.5V426.5H387.5V380.5z"/><path d="M337.5 380.5V470.5H394.5V380.5z"/><path d="M344.5 380.5V413.5H401.5V380.5z"/><path d="M351.5 380.5V507.5H408.5V380.5z"/><path d="M358.5 380.5V452.5H415.5V380.5z"/><path d="M365.5 380.5V420.5H422.5V380.5z"/><path d="M373.5 380.5V487.5H429.5V380.5z"/><path d="M380.5 380.5V465.5H436.5V380.5z"/><path d="M387.5 380.5V454.5H443.5V380.5z"/><path d="M394.5 380.5V506.5H450.5V380.5z"/><path d="M401.5 380.5V468.5H458.5V380.5z"/><path d="M408.5 380.5V414.5H465.5V380.5z"/><path d="M415.5 380.5V447.5H472.5V380.5z"/><path d="M422.5 380.5V413.5H479.5V380.5z"/><path d="M429.5 380.5V494.5H486.5V380.5z"/><path d="M436.5 380.5V444.5H493.5V380.5z"/><path d="M443.5 380.5V489.5H500.5V380.5z"/><path d="M450.5 380.5V418.5H507.5V380.5z"/><path d="M458.5 380.5V448.5H514.5V380.5z"/><path d="M465.5 380.5V409.5H521.5V380.5z"/><path d="M472.5 380.5V452.5H528.5V380.5z"/><path d="M479.5 380.5V480.5H535.5V380.5z"/><path d="M486.5 380.5V457.5H543.5V380.5z"/><path d="M493.5 380.5V476.5H550.5V380.5z"/><path d="M500.5 380.5V455.5H557.5V380.5z"/><path d="M507.5 380.5V407.5H564.5V380.5z"/><path d="M514.5 380.5V406.5H571.5V380.5z"/><path d="M521.5 380.5V412.5H578.5V380.5z"/><path d="M528.5 380.5V456.5H585.5V380.5z"/><path d="M535.5 380.5V417.5H592.5V380.5z"/><path d="M543.5 380.5V429.5H599.5V380.5z"/><path d="M550.5 380.5V453.5H606.5V380.5z"/><path d="M557.5 380.5V428.5H613.5V380.5z"/><path d="M564.5 380.5V415.5H620.5V380.5z"/><path d="M571.5 380.5V426.5H627.5V380.5z"/><path d="M578.5 380.5V414.5H635.5V380.5z"/><path d="M585.5 380.5V465.5H642.5V380.5z"/><path d="M592.5 380.5V436.5H649.5V380.5z"/><path d="M599.5 380.5V402.5H656.5V380.5z"/><path d="M606.5 380.5V402.5H663.5V380.5z"/><path d="M613.5 380.5V417.5H670.5V380.5z"/><path d="M620.5 380.5V401.5H677.5V380.5z"/><path d="M627.5 380.5V417.5H684.5V380.5z"/><path d="M635.5 380.5V437.5H691.5V380.5z"/><path d="M642.5 380.5V405.5H698.5V380.5z"/><path d="M649.5 380.5V400.5H705.5V380.5z"/><path d="M656.5 380.5V405.5H712.5V380.5z"/><path d="M663.5 380.5V429.5H720.5V380.5z"/><path d="M670.5 380.5V419.5H727.5V380.5z"/><path d="M677.5 380.5V418.5H734.5V380.5z"/><path d="M684.5 380.5V404.5H741.5V380.5z"/><path d="M691.5 380.5V417.5H748.5V380.5z"/><path d="M698.5 380.5V408.5H755.5V380.5z"/><path d="M705.5 380.5V412.5H762.5V380.5z"/><path d="M712.5 380.5V421.5H769.5V380.5z"/><path d="M720.5 380.5V393.5H776.5V380.5z"/><path d="M727.5 380.5V402.5H783.5V380.5z"/><path d="M734.5 380.5V415.5H790.5V380.5z"/><path d="M741.5 380.5V397.5H797.5V380.5z"/><path d="M748.5 380.5V406.5H805.5V380.5z"/><path d="M755.5 380.5V401.5H812.5V380.5z"/><path d="M762.5 380.5V401.5H819.5V380.5z"/><path d="M769.5 380.5V397.5H826.5V380.5z"/><path d="M776.5 380.5V409.5H833.5V380.5z"/><path d="M783.5 380.5V388.5H840.5V380.5z"/><path d="M790.5 380.5V388.5H847.5V380.5z"/><path d="M797.5 380.5V392.5H854.5V380.5z"/><path d="M805.5 380.5V404.5H861.5V380.5z"/><path d="M812.5 380.5V396.5H868.5V380.5z"/><path d="M819.5 380.5V392.5H875.5V380.5z"/><path d="M826.5 380.5V388.5H882.5V380.5z"/><path d="M833.5 380.5V387.5H889.5V380.5z"/><path d="M840.5 380.5V399.5H897.5V380.5z"/><path d="M868.5 380.5V391.5H925.5V380.5z"/><path d="M875.5 380.5V394.5H932.5V380.5z"/><path d="M889.5 380.5V387.5H946.5V380.5z"/><path d="M904.5 380.5V394.5H960.5V380.5z"/><path d="M918.5 380.5V394.5H974.5V380.5z"/><path d="M946.5 380.5V393.5H1003.5V380.5z"/><path d="M953.5 380.5V393.5H1010.5V380.5z"/><path d="M982.5 380.5V393.5H1038.5V380.5z"/><path d="M996.5 380.5V389.5H1052.5V380.5z"/><path d="M1010.5 380.5V386.5H1066.5V380.5z"/><path d="M1017.5 380.5V389.5H1074.5V380.5z"/><path d="M1031.5 380.5V392.5H1088.5V380.5z"/><path d="M1074.5 380.5V386.5H1130.5V380.5z"/><path d="M1081.5 380.5V383.5H1137.5V380.5z"/><path d="M1088.5 380.5V383.5H1144.5V380.5z"/><path d="M1102.5 380.5V385.5H1159.5V380.5z"/><path d="M1130.5 380.5V385.5H1187.5V380.5z"/><path d="M1144.5 380.5V383.5H1201.5V380.5z"/><path d="M1187.5 380.5V382.5H1244.5V380.5z"/><path d="M1215.5 380.5V382.5H1272.5V380.5z"/><path d="M1279.5 380.5V382.5H1336.5V380.5z"/><path d="M1300.5 380.5V382.5H1357.5V380.5z"/><path d="M1357.5 380.5V382.5H1413.5V380.5z"/><path d="M1364.5 380.5V382.5H1421.5V380.5z"/></g>
<path d="M69.5 380.3H1619.5" stroke="#808080" stroke-width="3" fill="none"/>
<path d="M1371 73.5V528.5" stroke="#000" stroke-width="2.2" stroke-dasharray="7.72 3.33" stroke-dashoffset="6.2" fill="none"/>
<path d="M238 73.5V528.5" stroke="#000" stroke-width="2.2" stroke-dasharray="7.72 3.33" stroke-dashoffset="6.2" fill="none"/>
</g>
<rect x="69.5" y="73.5" width="1550.0" height="455.0" fill="none" stroke="#000" stroke-width="1.11"/>
<text x="96.9" y="547.7" text-anchor="middle">0.0</text>
<text x="380.1" y="547.7" text-anchor="middle">0.2</text>
<text x="663.4" y="547.7" text-anchor="middle">0.4</text>
<text x="946.6" y="547.7" text-anchor="middle">0.6</text>
<text x="1229.9" y="547.7" text-anchor="middle">0.8</text>
<text x="1513.1" y="547.7" text-anchor="middle">1.0</text>
<path d="M96.5 528.5v5.4M380.5 528.5v5.4M663.5 528.5v5.4M946.5 528.5v5.4M1229.5 528.5v5.4M1513.5 528.5v5.4" stroke="#000" stroke-width="1.11" fill="none"/>
<text x="59" y="533.2" text-anchor="end">−20</text>
<text x="59" y="459.7" text-anchor="end">−10</text>
<text x="59" y="386.1" text-anchor="end">0</text>
<text x="59" y="312.6" text-anchor="end">10</text>
<text x="59" y="239" text-anchor="end">20</text>
<text x="59" y="165.5" text-anchor="end">30</text>
<text x="59" y="91.9" text-anchor="end">40</text>
<path d="M69.5 527.5h-5.4M69.5 453.5h-5.4M69.5 380.5h-5.4M69.5 306.5h-5.4M69.5 233.5h-5.4M69.5 159.5h-5.4M69.5 86.5h-5.4" stroke="#000" stroke-width="1.11" fill="none"/>
<text x="843.6" y="567.5" text-anchor="middle">Propensity Scores</text>
<text transform="translate(19.5 301) rotate(-90)" text-anchor="middle">Counts of Observations</text>
<text font-size="27.78px" xml:space="preserve"><tspan x="477" y="32" textLength="732.6">Weighted and Unweighted Draws from the Posterior </tspan><tspan x="625.8" y="63.6" textLength="436.2">  Propensity Scores Distribution</tspan></text>
<rect x="720.6" y="433.5" width="247.9" height="87.5" rx="2.78" fill="#fff" fill-opacity="0.8" stroke="#ccc" stroke-opacity="0.8" stroke-width="1.39"/>
<path d="M725.6 445.1h27.78" stroke="#87ceeb" stroke-width="2.78" stroke-linecap="square" fill="none"/>
<text x="763.9" y="450">Treatment PS</text>
<path d="M725.6 465.5h27.78" stroke="#ffa500" stroke-width="2.78" stroke-linecap="square" fill="none"/>
<text x="763.9" y="470.4">Control PS</text>
<path d="M725.6 486.3h27.78" stroke="#808080" stroke-width="2.78" stroke-linecap="square" fill="none"/>
<text x="763.9" y="491.2">Weighted Pseudo Population</text>
<path d="M725.6 507.2h27.78" stroke="#000" stroke-width="2.78" stroke-dasharray="10.28 4.44" fill="none"/>
<text x="763.9" y="512.1">Extreme PS</text>
<clipPath id="cb"><rect x="69.5" y="619.5" width="1018.0" height="455.0"/></clipPath><g clip-path="url(#cb)">
<g fill="#87ceeb" stroke="#000" stroke-width="1.39" opacity="1" fill-opacity="0.6" stroke-opacity="0.6" stroke-linejoin="miter"><path d="M630.5 1074.5V1054.5H671.5V1074.5zM712.5 1074.5V813.5H754.5V1074.5zM795.5 1074.5V728.5H836.5V1074.5zM877.5 1074.5V907.5H918.5V1074.5zM959.5 1074.5V1054.5H1000.5V1074.5z"/><path d="M671.5 1074.5V979.5H712.5V1074.5zM754.5 1074.5V705.5H795.5V1074.5zM836.5 1074.5V800.5H877.5V1074.5zM918.5 1074.5V1005.5H959.5V1074.5zM1000.5 1074.5V1061.5H1041.5V1074.5z"/></g>
<g fill="#ffa500" stroke="#000" stroke-width="1.39" opacity="1" fill-opacity="0.6" stroke-opacity="0.6" stroke-linejoin="miter"><path d="M115.5 1074.5V1057.5H121.5V1074.5zM128.5 1074.5V904.5H134.5V1074.5zM141.5 1074.5V640.5H147.5V1074.5zM153.5 1074.5V885.5H160.5V1074.5zM166.5 1074.5V1064.5H173.5V1074.5z"/><path d="M121.5 1074.5V1035.5H128.5V1074.5zM134.5 1074.5V777.5H141.5V1074.5zM147.5 1074.5V679.5H153.5V1074.5zM160.5 1074.5V999.5H166.5V1074.5zM173.5 1074.5V1067.5H179.5V1074.5z"/></g></g>
<rect x="69.5" y="619.5" width="1018.0" height="455.0" fill="none" stroke="#000" stroke-width="1.11"/>
<text x="186.3" y="1093.7" text-anchor="middle">2</text>
<text x="376.1" y="1093.7" text-anchor="middle">3</text>
<text x="565.9" y="1093.7" text-anchor="middle">4</text>
<text x="755.6" y="1093.7" text-anchor="middle">5</text>
<text x="945.4" y="1093.7" text-anchor="middle">6</text>
<path d="M186.5 1074.5v5.4M376.5 1074.5v5.4M565.5 1074.5v5.4M755.5 1074.5v5.4M945.5 1074.5v5.4" stroke="#000" stroke-width="1.11" fill="none"/>
<text x="59" y="1080.1" text-anchor="end">0</text>
<text x="59" y="1014.9" text-anchor="end">20</text>
<text x="59" y="949.7" text-anchor="end">40</text>
<text x="59" y="884.5" text-anchor="end">60</text>
<text x="59" y="819.2" text-anchor="end">80</text>
<text x="59" y="754" text-anchor="end">100</text>
<text x="59" y="688.8" text-anchor="end">120</text>
<path d="M69.5 1074.5h-5.4M69.5 1009.5h-5.4M69.5 943.5h-5.4M69.5 878.5h-5.4M69.5 813.5h-5.4M69.5 748.5h-5.4M69.5 683.5h-5.4" stroke="#000" stroke-width="1.11" fill="none"/>
<text x="577.9" y="1114" text-anchor="middle">outcome</text>
<text font-size="27.78px" xml:space="preserve"><tspan x="472.25" y="578.3" textLength="210.8">The Outcomes </tspan><tspan x="304.85" y="610.3" textLength="546.2"> Under the robust re-weighting scheme</tspan></text>
<rect x="983.4" y="626.4" width="97.2" height="46.1" rx="2.78" fill="#fff" fill-opacity="0.8" stroke="#ccc" stroke-opacity="0.8" stroke-width="1.39"/>
<rect x="988.9" y="633.2" width="27.78" height="9.72" fill="#87ceeb" fill-opacity=".6" stroke="#000" stroke-opacity=".6" stroke-width="1.39"/>
<rect x="988.9" y="653.6" width="27.78" height="9.72" fill="#ffa500" fill-opacity=".6" stroke="#000" stroke-opacity=".6" stroke-width="1.39"/>
<text x="1027" y="643">E(Y(1))</text><text x="1027" y="663.4">E(Y(0))</text>
<clipPath id="cc"><rect x="1132.5" y="619.5" width="487.0" height="455.0"/></clipPath><g clip-path="url(#cc)">
<g fill="#808080" stroke="#000" stroke-width="1.39" opacity="1" fill-opacity="0.6" stroke-opacity="0.6" stroke-linejoin="miter"><path d="M1154.5 1074.5V1050.5H1198.5V1074.5zM1242.5 1074.5V765.5H1287.5V1074.5zM1331.5 1074.5V640.5H1375.5V1074.5zM1419.5 1074.5V874.5H1464.5V1074.5zM1508.5 1074.5V1043.5H1552.5V1074.5z"/><path d="M1198.5 1074.5V980.5H1242.5V1074.5zM1287.5 1074.5V648.5H1331.5V1074.5zM1375.5 1074.5V734.5H1419.5V1074.5zM1464.5 1074.5V980.5H1508.5V1074.5zM1552.5 1074.5V1070.5H1596.5V1074.5z"/></g>
<path d="M1346.9 1074.5V619.5" stroke="#1f77b4" stroke-width="2.08" fill="none"/></g>
<rect x="1132.5" y="619.5" width="487.0" height="455.0" fill="none" stroke="#000" stroke-width="1.11"/>
<text x="1167.7" y="1093.7" text-anchor="middle">2.5</text>
<text x="1258" y="1093.7" text-anchor="middle">3.0</text>
<text x="1348.2" y="1093.7" text-anchor="middle">3.5</text>
<text x="1438.5" y="1093.7" text-anchor="middle">4.0</text>
<text x="1528.7" y="1093.7" text-anchor="middle">4.5</text>
<path d="M1167.5 1074.5v5.4M1257.5 1074.5v5.4M1348.5 1074.5v5.4M1438.5 1074.5v5.4M1528.5 1074.5v5.4" stroke="#000" stroke-width="1.11" fill="none"/>
<text x="1122" y="1080.1" text-anchor="end">0</text>
<text x="1122" y="1001.9" text-anchor="end">20</text>
<text x="1122" y="923.7" text-anchor="end">40</text>
<text x="1122" y="845.5" text-anchor="end">60</text>
<text x="1122" y="767.3" text-anchor="end">80</text>
<text x="1122" y="689.1" text-anchor="end">100</text>
<path d="M1132.5 1074.5h-5.4M1132.5 996.5h-5.4M1132.5 917.5h-5.4M1132.5 839.5h-5.4M1132.5 761.5h-5.4M1132.5 683.5h-5.4" stroke="#000" stroke-width="1.11" fill="none"/>
<text x="1374.5" y="1114" text-anchor="middle">Difference</text>
<text font-size="27.78px" x="1197.55" y="610.3" textLength="354.55">Average Treatment Effect</text>
<rect x="1516.2" y="626.4" width="96.4" height="46.1" rx="2.78" fill="#fff" fill-opacity="0.8" stroke="#ccc" stroke-opacity="0.8" stroke-width="1.39"/>
<rect x="1522.6" y="633.3" width="27.78" height="9.72" fill="#808080" fill-opacity=".6" stroke="#000" stroke-opacity=".6" stroke-width="1.39"/>
<path d="M1521.8 658H1549.6" stroke="#1f77b4" stroke-width="2.08" stroke-linecap="square" fill="none"/>
<text x="1561.1" y="642.3">ATE</text><text x="1561.1" y="663.6">E(ATE)</text>
</svg></body></html>
